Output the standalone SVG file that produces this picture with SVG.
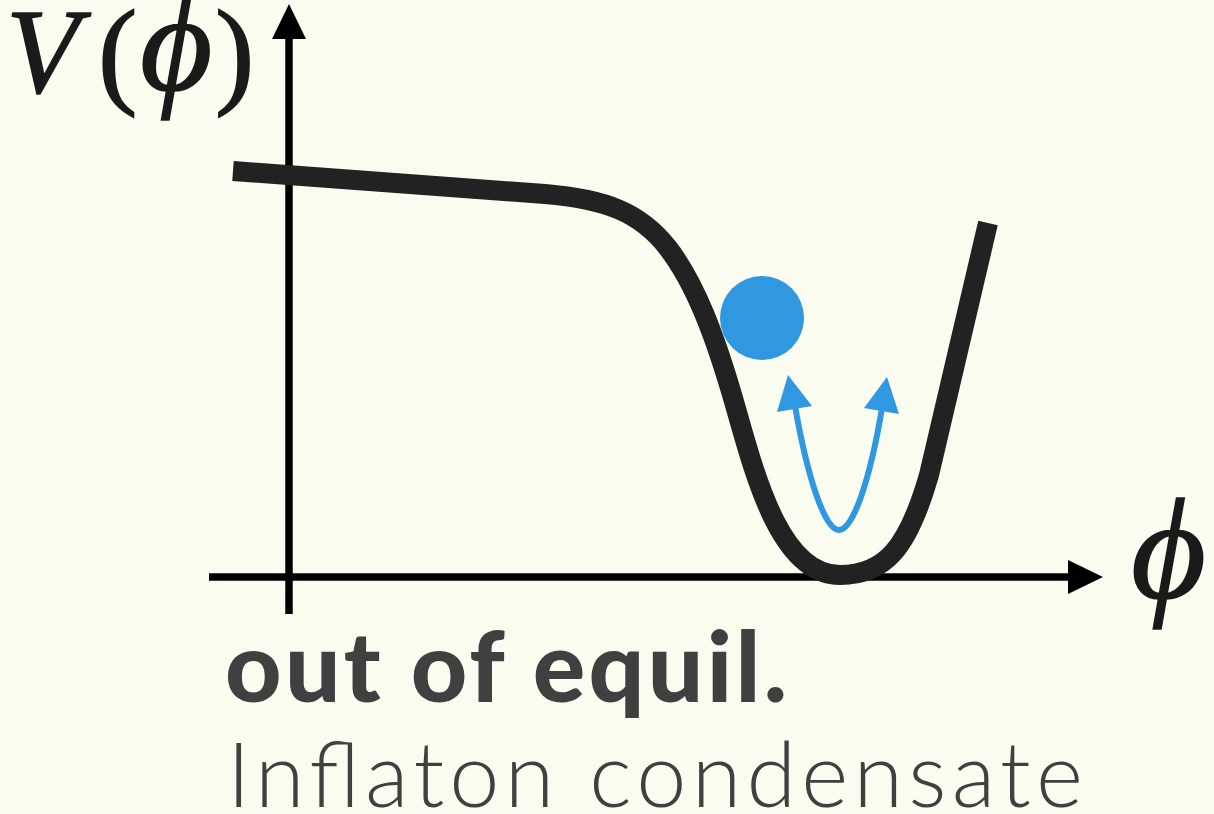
<svg xmlns="http://www.w3.org/2000/svg" width="1214" height="814" viewBox="0 0 1214 814">
<style>
.axis{stroke:#000;stroke-width:7.5;fill:none}
.head{fill:#000}
.pot{stroke:#222;stroke-width:20;fill:none;stroke-linejoin:round}
.osc{stroke:#2f98e0;stroke-width:6;fill:none}
.bhead{fill:#2f98e0}
.math{font-family:"Liberation Serif","DejaVu Serif",serif;fill:#1a1a1a;stroke:#1a1a1a;stroke-width:1.5}
.lbl{font-family:Lato,"Open Sans",sans-serif;fill:#404040}
</style>
<rect width="1214" height="814" fill="#fafcf0"/>
<g id="connectors">
<line class="axis" x1="289" y1="614" x2="289" y2="36"/>
<polygon class="head" points="289,4 272,39 306,39"/>
<line class="axis" x1="209" y1="577" x2="1071" y2="577"/>
<polygon class="head" points="1103,577 1068,560 1068,594"/>
</g>
<g id="potential">
<path class="pot" d="M233,171 L545,194 C605,199 640,212 668,248 C695,283 715,335 735,405 C755,475 780,575 840,575 C885,575 908,548 929,475 L988,223"/>
</g>
<g id="ball">
<circle cx="762" cy="318" r="42" fill="#2f98e0"/>
</g>
<g id="oscillation">
<path class="osc" d="M795,406 C808,480 825,530 839,530 C853,530 870,480 882,408"/>
<polygon class="bhead" points="788,375 777,412 812,406"/>
<polygon class="bhead" points="887,377 864,408 899,414"/>
</g>
<g id="ylabel">
<text class="math" x="6" y="92" font-size="120" font-style="italic">V</text>
<text class="math" x="98" y="92" font-size="118">(</text>
<text class="math" x="140" y="90" font-size="140" font-style="italic">ϕ</text>
<text class="math" x="215" y="92" font-size="118">)</text>
</g>
<g id="xlabel">
<text class="math" x="1131" y="598" font-size="145" font-style="italic">ϕ</text>
</g>
<g id="caption">
<text class="lbl" x="225" y="702" font-size="98" font-weight="900" textLength="562" lengthAdjust="spacing">out of equil.</text>
<text class="lbl" x="227" y="807" font-size="90" font-weight="300" textLength="856" lengthAdjust="spacing">Inflaton condensate</text>
</g>
</svg>
